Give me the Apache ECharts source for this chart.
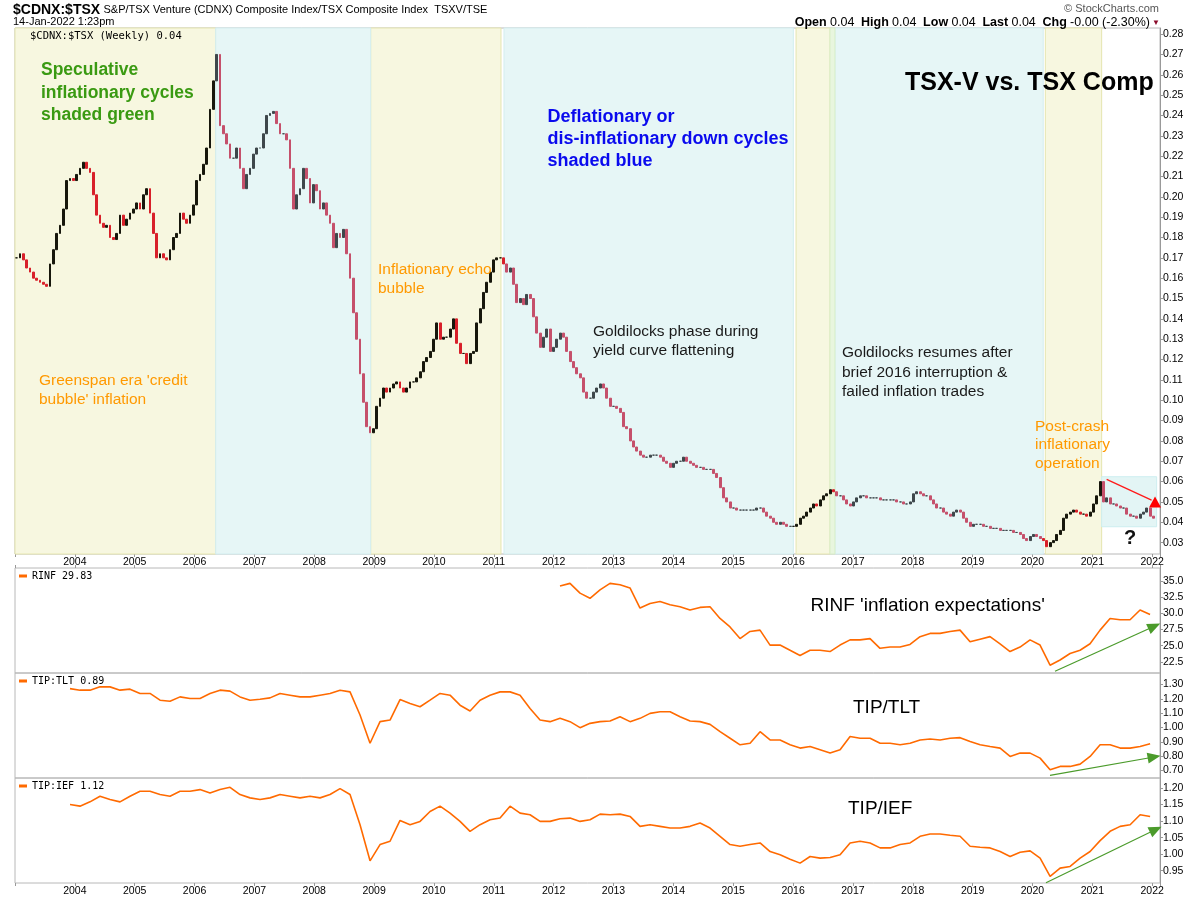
<!DOCTYPE html>
<html><head><meta charset="utf-8">
<script src="https://cdn.jsdelivr.net/npm/echarts@6/dist/echarts.min.js"></script>
<style>html,body{margin:0;padding:0;background:#fff}#c{width:1200px;height:900px}</style>
</head><body><div id="c"></div>
<script>
// ================= DATA =================
// $CDNX:$TSX ratio, one close roughly every 20 days (decimal years)
const ratioStart = 2003.028;
const ratioStep = 0.0557;
const ratio2003to2009 = [
  .170,.172,.169,.165,.163,.160,.159,.158,.157,.156,
  .167,.174,.182,.186,.194,.208,.209,.208,.211,.214,
  .217,.214,.212,.201,.191,.187,.185,.186,.180,.179,
  .182,.191,.186,.189,.192,.194,.197,.194,.201,.204,
  .192,.182,.170,.172,.170,.169,.174,.180,.182,.192,
  .189,.187,.191,.196,.208,.211,.216,.224,.243,.257,
  .270,.235,.231,.226,.219,.219,.224,.214,.204,.211,
  .214,.221,.224,.224,.231,.240,.241,.242,.236,.231,
  .231,.228,.214,.194,.201,.204,.214,.209,.197,.206,
  .203,.194,.197,.191,.187,.175,.182,.180,.184,.172,
  .160,.143,.130,.113,.099,.087,.084,.086,.097,.101,
  .106,.104,.106,.108,.109
];
const ratio2009to2015 = [
  .106,.104,.106,.109,.109,.111,.114,.119,.121,.124,
  .130,.138,.130,.131,.131,.135,.140,.128,.123,.123,
  .118,.123,.124,.138,.145,.153,.158,.163,.169,.170,
  .170,.167,.163,.165,.157,.148,.150,.147,.152,.150,
  .141,.133,.126,.131,.135,.124,.126,.130,.133,.131,
  .124,.119,.116,.113,.111,.104,.101,.101,.104,.106,
  .108,.106,.101,.097,.097,.096,.094,.087,.086,.080,
  .077,.075,.073,.072,.072,.073,.073,.073,.072,.070,
  .069,.067,.069,.070,.070,.072,.070,.069,.068,.067,
  .067,.066,.066,.066,.064,.062,.057,.052,.050,.047,
  .047,.046,.046,.046,.046,.046,.046,.047,.047,.045,
  .043,.042,.040,.039
];
const ratio2015to2022 = [
  .040,.039,.038,.038,.038,.039,.042,.043,.045,.047,
  .049,.048,.051,.053,.054,.056,.055,.053,.053,.051,
  .049,.048,.050,.052,.053,.053,.052,.052,.052,.052,
  .051,.051,.051,.051,.051,.050,.050,.049,.049,.050,
  .054,.055,.054,.053,.053,.051,.049,.047,.047,.045,
  .044,.043,.045,.046,.045,.042,.040,.038,.039,.039,
  .039,.038,.038,.037,.037,.037,.036,.036,.036,.036,
  .035,.035,.034,.032,.031,.033,.034,.033,.032,.031,
  .028,.030,.031,.034,.036,.042,.044,.045,.046,.045,
  .044,.044,.043,.045,.049,.053,.060,.050,.052,.049,
  .049,.048,.047,.047,.044,.043,.043,.042,.044,.045,
  .047,.043,.042
];

// lower panels, one value roughly every two months
const lowerStep = 0.1671;
const tipStart = 2003.919;
const tipTlt = [
  1.272,1.261,1.261,1.285,1.284,1.261,1.268,1.238,1.238,1.191,
  1.184,1.214,1.203,1.203,1.238,1.261,1.254,1.214,1.191,1.198,
  1.207,1.238,1.226,1.214,1.214,1.226,1.238,1.261,1.249,1.087,
  0.890,1.041,1.052,1.195,1.168,1.145,1.191,1.238,1.226,1.156,
  1.115,1.191,1.226,1.249,1.249,1.226,1.133,1.052,1.041,1.064,
  1.041,0.999,1.029,1.041,1.045,1.075,1.041,1.064,1.099,1.110,
  1.110,1.075,1.045,1.041,1.022,0.971,0.925,0.879,0.890,0.971,
  0.913,0.913,0.880,0.856,0.867,0.844,0.821,0.844,0.937,0.925,
  0.925,0.890,0.890,0.879,0.890,0.913,0.920,0.913,0.925,0.929,
  0.902,0.879,0.867,0.856,0.798,0.821,0.821,0.786,0.705,0.728,
  0.728,0.744,0.798,0.879,0.879,0.856,0.856,0.867,0.886
];
const tipIef = [
  1.150,1.145,1.158,1.175,1.165,1.158,1.175,1.190,1.190,1.180,
  1.175,1.190,1.190,1.195,1.185,1.195,1.202,1.180,1.170,1.165,
  1.170,1.180,1.175,1.170,1.175,1.170,1.180,1.198,1.180,1.089,
  0.980,1.029,1.039,1.102,1.089,1.099,1.129,1.145,1.124,1.099,
  1.069,1.089,1.104,1.109,1.145,1.124,1.119,1.099,1.099,1.107,
  1.109,1.099,1.104,1.121,1.119,1.121,1.114,1.084,1.089,1.084,
  1.079,1.079,1.084,1.094,1.079,1.054,1.029,1.024,1.029,1.034,
  1.008,0.998,0.985,0.973,0.993,0.988,0.990,0.998,1.034,1.039,
  1.034,1.019,1.019,1.029,1.034,1.054,1.061,1.061,1.057,1.054,
  1.024,1.021,1.019,1.008,0.993,1.006,1.010,0.988,0.933,0.958,
  0.963,0.988,1.008,1.041,1.069,1.084,1.089,1.119,1.114
];
const rinfStart = 2012.106;
const rinf = [
  34.2,34.6,33.1,32.3,33.6,34.6,34.4,33.9,30.8,31.5,
  31.8,31.3,31.0,30.5,30.9,31.0,29.2,27.9,26.1,27.2,
  27.4,25.1,25.1,24.3,23.5,24.3,24.3,24.1,25.1,25.9,
  25.9,26.1,24.6,24.8,24.8,25.2,26.4,26.9,26.9,27.2,
  27.4,25.6,26.0,26.4,25.3,24.1,24.8,25.9,25.1,22.0,
  22.8,23.8,24.3,25.3,27.4,29.2,29.0,29.0,30.5,29.8
];

// tick labels
const ratioTicks = [0.03,0.04,0.05,0.06,0.07,0.08,0.09,0.10,0.11,0.12,0.13,0.14,0.15,0.16,0.17,0.18,0.19,0.20,0.21,0.22,0.23,0.24,0.25,0.26,0.27,0.28];
const rinfTicks = [22.5,25.0,27.5,30.0,32.5,35.0];
const tltTicks = [0.70,0.80,0.90,1.00,1.10,1.20,1.30];
const iefTicks = [0.95,1.00,1.05,1.10,1.15,1.20];

// shaded regimes (decimal years)
const inflationZones = [[2003.0,2006.353],[2008.943,2011.12],[2016.05,2016.617],[2020.215,2021.156]];
const deflationZones = [[2006.353,2008.943],[2011.17,2016.005],[2016.70,2020.18]];
const overlapZones = [[2016.617,2016.70]];
const postPeakBox = [[2021.156,0.0378],[2022.075,0.0624]];

// ================= CHART =================
const SANS = "'Liberation Sans', Arial, sans-serif";
const NARROW = "'Liberation Sans Narrow', 'Arial Narrow', 'Liberation Sans', sans-serif";
const MONO = "'DejaVu Sans Mono', monospace";
const ORANGE_LINE = '#ff6a00';

const ratioClose = ratio2003to2009.concat(ratio2009to2015, ratio2015to2022);
const isBlue = t => deflationZones.some(z => t >= z[0] && t < z[1]) || t >= postPeakBox[0][0];
const candleData = ratioClose.map((c, i) => {
  const t = ratioStart + i * ratioStep;
  const o = i ? ratioClose[i - 1] : c;
  const blue = isBlue(t);
  const rising = c >= o;
  const col = rising ? (blue ? '#3e474b' : '#17170c') : (blue ? '#c5506b' : '#d8202a');
  return {value: [t, o, c, Math.min(o, c), Math.max(o, c)],
          itemStyle: {color: col, color0: col, borderColor: col, borderColor0: col}};
});
const toLine = (arr, start) => arr.map((v, i) => [start + i * lowerStep, v]);

const grids = [
  {left: 15, right: 40, top: 28, height: 526},
  {left: 15, right: 40, top: 568, height: 105},
  {left: 15, right: 40, top: 673, height: 105},
  {left: 15, right: 40, top: 778, height: 105}
].map(g => Object.assign({show: true, borderColor: '#b8b8b8', borderWidth: 1, backgroundColor: 'transparent'}, g));

const yearFmt = v => (Math.abs(v - Math.round(v)) < 1e-6 && v >= 2004 && v <= 2022) ? String(Math.round(v)) : '';
const xAxis = (gi, showLabel, pos, ticks) => ({
  type: 'value', gridIndex: gi, min: 2003, max: 2022.131, interval: 1, position: pos,
  axisLine: {show: false}, splitLine: {show: false},
  axisTick: {show: ticks, length: 3, lineStyle: {color: '#999'}},
  axisLabel: {show: showLabel, margin: 3, fontSize: 10.5, fontFamily: SANS, color: '#000', formatter: yearFmt}
});
const yAxis = (gi, min, max, ticks, dec) => ({
  type: 'value', gridIndex: gi, position: 'right', min: min, max: max,
  axisLine: {show: true, lineStyle: {color: '#999'}},
  axisTick: {show: true, length: 3, customValues: ticks, lineStyle: {color: '#999'}},
  axisLabel: {customValues: ticks, margin: 3, fontSize: 10.5, fontFamily: SANS, color: '#000',
              formatter: v => Number(v).toFixed(dec)},
  splitLine: {show: false}
});

const zoneArea = (z, fill, border) => [{xAxis: z[0], itemStyle: {color: fill, borderColor: border, borderWidth: 1}}, {xAxis: z[1]}];
const markAreas = [].concat(
  inflationZones.map(z => zoneArea(z, '#f7f7e0', '#e6e6b0')),
  deflationZones.map(z => zoneArea(z, '#e6f6f6', '#d3eef0')),
  overlapZones.map(z => zoneArea(z, '#e8f6de', '#d8efc8')),
  [[{coord: postPeakBox[0], itemStyle: {color: '#e3f5f5', borderColor: '#cdeef0', borderWidth: 1}}, {coord: postPeakBox[1]}]]
);

const greenArrow = (from, to) => ({
  silent: true, symbol: ['none', 'triangle'], symbolSize: [11, 13],
  label: {show: false}, emphasis: {disabled: true},
  lineStyle: {color: '#4b9b2b', width: 1.2, type: 'solid'},
  data: [[{coord: from}, {coord: to}]]
});

const T = (x, y, text, font, fill, lh, align) => ({
  type: 'text', x: x, y: y, z: 100, zlevel: 1, silent: true,
  style: {text: text, font: font, fill: fill, lineHeight: lh || undefined,
          textAlign: align || 'left', align: align || 'left',
          textVerticalAlign: 'top', verticalAlign: 'top'}
});
const TM = (x, y, text, font, fill, align) => ({
  type: 'text', x: x, y: y, z: 100, zlevel: 1, silent: true,
  style: {text: text, font: font, fill: fill,
          textAlign: align || 'left', align: align || 'left',
          textVerticalAlign: 'middle', verticalAlign: 'middle'}
});

const option = {
  animation: false,
  backgroundColor: '#fff',
  grid: grids,
  xAxis: [xAxis(0, true, 'bottom', true), xAxis(1, false, 'top', true), xAxis(2, false, 'bottom', false), xAxis(3, true, 'bottom', true)],
  yAxis: [yAxis(0, 0.0244, 0.283, ratioTicks, 2), yAxis(1, 20.8, 36.97, rinfTicks, 1),
          yAxis(2, 0.647, 1.381, tltTicks, 2), yAxis(3, 0.913, 1.230, iefTicks, 2)],
  series: [
    {
      type: 'candlestick', name: '$CDNX:$TSX', xAxisIndex: 0, yAxisIndex: 0,
      dimensions: ['t', 'open', 'close', 'low', 'high'],
      encode: {x: 't', y: ['open', 'close', 'low', 'high']},
      barWidth: 2.4, data: candleData,
      itemStyle: {borderWidth: 1},
      markArea: {silent: true, data: markAreas},
      markLine: {silent: true, symbol: ['none', 'none'], label: {show: false},
                 lineStyle: {color: '#ff1a1a', width: 1.3, type: 'solid'},
                 data: [[{coord: [2021.24, 0.0611]}, {coord: [2021.99, 0.0509]}]]},
      markPoint: {silent: true, label: {show: false},
                  data: [{coord: [2022.048, 0.0500], symbol: 'triangle', symbolSize: [12, 11], itemStyle: {color: '#ff0000'}}]}
    },
    {type: 'line', name: 'RINF', xAxisIndex: 1, yAxisIndex: 1, data: toLine(rinf, rinfStart), showSymbol: false, symbol: 'none',
     lineStyle: {color: ORANGE_LINE, width: 1.6}, markLine: greenArrow([2020.377, 21.06], [2022.036, 28.0])},
    {type: 'line', name: 'TIP:TLT', xAxisIndex: 2, yAxisIndex: 2, data: toLine(tipTlt, tipStart), showSymbol: false, symbol: 'none',
     lineStyle: {color: ORANGE_LINE, width: 1.6}, markLine: greenArrow([2020.293, 0.665], [2022.032, 0.794])},
    {type: 'line', name: 'TIP:IEF', xAxisIndex: 3, yAxisIndex: 3, data: toLine(tipIef, tipStart), showSymbol: false, symbol: 'none',
     lineStyle: {color: ORANGE_LINE, width: 1.6}, markLine: greenArrow([2020.226, 0.914], [2022.06, 1.0746])}
  ],
  graphic: {elements: [
    // header
    {type: 'text', x: 13, y: 10, z: 100, zlevel: 1, silent: true, style: {
      text: '{a|$CDNX:$TSX} {b|S&P/TSX Venture (CDNX) Composite Index/TSX Composite Index  TSXV/TSE}',
      textVerticalAlign: 'middle', verticalAlign: 'middle',
      rich: {a: {font: 'bold 14px ' + NARROW, fill: '#000'}, b: {font: '11px ' + NARROW, fill: '#000'}}}},
    TM(13, 22, '14-Jan-2022 1:23pm', '11px ' + NARROW, '#000'),
    TM(1159, 9, '\u00A9 StockCharts.com', '11px ' + SANS, '#555', 'right'),
    {type: 'text', x: 1150, y: 23, z: 100, zlevel: 1, silent: true, style: {
      text: '{b|Open} {n|0.04}  {b|High} {n|0.04}  {b|Low} {n|0.04}  {b|Last} {n|0.04}  {b|Chg} {n|-0.00 (-2.30%)}',
      textAlign: 'right', align: 'right', textVerticalAlign: 'middle', verticalAlign: 'middle',
      rich: {b: {font: 'bold 12.5px ' + NARROW, fill: '#000'}, n: {font: '12.5px ' + NARROW, fill: '#000'}}}},
    TM(1156, 23, '\u25BC', '8px ' + SANS, '#8b0a2a', 'center'),
    // panel legends
    TM(30, 36, '$CDNX:$TSX (Weekly) 0.04', '10.5px ' + MONO, '#000'),
    {type: 'rect', z: 100, zlevel: 1, silent: true, shape: {x: 19, y: 574.5, width: 8, height: 3}, style: {fill: ORANGE_LINE}},
    TM(32, 576, 'RINF 29.83', '10px ' + MONO, '#000'),
    {type: 'rect', z: 100, zlevel: 1, silent: true, shape: {x: 19, y: 679.5, width: 8, height: 3}, style: {fill: ORANGE_LINE}},
    TM(32, 681, 'TIP:TLT 0.89', '10px ' + MONO, '#000'),
    {type: 'rect', z: 100, zlevel: 1, silent: true, shape: {x: 19, y: 784.5, width: 8, height: 3}, style: {fill: ORANGE_LINE}},
    TM(32, 786, 'TIP:IEF 1.12', '10px ' + MONO, '#000'),
    // annotations
    T(41, 59.5, 'Speculative\ninflationary cycles\nshaded green', 'bold 17.5px ' + SANS, '#3a9a12', 22.2),
    T(39, 371.7, "Greenspan era 'credit\nbubble' inflation", '15.5px ' + SANS, '#ff9900', 19),
    T(378, 259.8, 'Inflationary echo\nbubble', '15.5px ' + SANS, '#ff9900', 19),
    T(547.5, 105.8, 'Deflationary or\ndis-inflationary down cycles\nshaded blue', 'bold 18px ' + SANS, '#0a0aee', 22),
    T(593, 321.8, 'Goldilocks phase during\nyield curve flattening', '15.5px ' + SANS, '#1a1a1a', 19),
    T(842, 343.5, 'Goldilocks resumes after\nbrief 2016 interruption &\nfailed inflation trades', '15.5px ' + SANS, '#1a1a1a', 19.3),
    TM(905, 83.5, 'TSX-V vs. TSX Comp', 'bold 25px ' + SANS, '#000'),
    T(1035, 417.5, 'Post-crash\ninflationary\noperation', '15.5px ' + SANS, '#ff9900', 18.3),
    TM(1130, 538.5, '?', 'bold 20px ' + SANS, '#111', 'center'),
    TM(810.5, 605.7, "RINF 'inflation expectations'", '19px ' + SANS, '#000'),
    TM(853, 707.7, 'TIP/TLT', '19px ' + SANS, '#000'),
    TM(848, 808.3, 'TIP/IEF', '19px ' + SANS, '#000')
  ]}
};

const chart = echarts.init(document.getElementById('c'), null, {renderer: 'canvas', width: 1200, height: 900});
chart.setOption(option);
</script>
</body></html>
